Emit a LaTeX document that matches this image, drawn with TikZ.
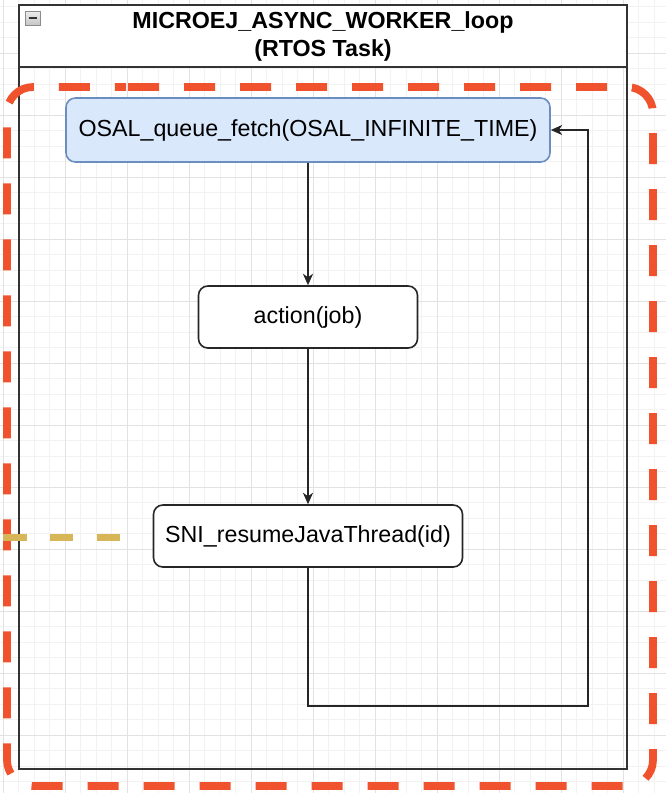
\documentclass[tikz,border=0pt]{standalone}
\usepackage{fontspec}
\setmainfont{Liberation Sans}
\usetikzlibrary{arrows.meta}
\definecolor{gridminor}{HTML}{F2F2F2}
\definecolor{gridmajor}{HTML}{E2E2E2}
\definecolor{redline}{HTML}{F0522E}
\definecolor{yelline}{HTML}{D6B656}
\definecolor{bluefill}{HTML}{DAE8FC}
\definecolor{bluestroke}{HTML}{6C8EBF}
\definecolor{poolline}{HTML}{333333}
\tikzset{
  minorgrid/.style={draw=gridminor, line width=0.75pt},
  majorgrid/.style={draw=gridmajor, line width=0.75pt},
  stepbox/.style={draw=black!85, line width=1.2pt, rounded corners=7pt, fill=white,
    font=\fontsize{17.44}{21}\selectfont, inner sep=0pt, align=center},
  bluebox/.style={stepbox, draw=bluestroke, fill=bluefill},
  poolbox/.style={draw=poolline, line width=1.4pt, inner sep=0pt},
  flow/.style={draw=black!85, line width=1.2pt, -{Stealth[length=8.5pt,width=7.5pt,inset=2.5pt]}},
  reddash/.style={draw=redline, line width=5.8pt, dash pattern=on 23.25pt off 18.75pt, dash phase=40.5pt},
  yeldash/.style={draw=yelline, line width=5.25pt, dash pattern=on 17.5pt off 17.5pt}
}
\begin{document}
\begin{tikzpicture}[x=0.75pt, y=-0.75pt]
\useasboundingbox (0,0) rectangle (666,793);
\fill[white] (0,0) rectangle (666,793);
% grid
\foreach \i in {0,...,43} {
  \draw[minorgrid] ({3+15.5*\i},0) -- ({3+15.5*\i},793);
}
\foreach \j in {0,...,51} {
  \draw[minorgrid] (0,{6.5+15.5*\j}) -- (666,{6.5+15.5*\j});
}
\foreach \i in {0,...,10} {
  \draw[majorgrid] ({3+62*\i},0) -- ({3+62*\i},793);
}
\foreach \j in {0,...,12} {
  \draw[majorgrid] (0,{-9+62*\j}) -- (666,{-9+62*\j});
}
% container
\node[poolbox, minimum width=456pt, minimum height=573pt] (pool) at (323,387) {};
\node[poolbox, fill=white, minimum width=456pt, minimum height=46.5pt,
  font=\fontsize{17.44}{21}\selectfont\bfseries, align=center] (hdr) at (323,36)
  {MICROEJ\_ASYNC\_WORKER\_loop\\(RTOS Task)};
% collapse icon
\node[draw=gray!90, line width=0.6pt, top color=gray!15, bottom color=gray!45,
  minimum width=10.7pt, minimum height=10pt, inner sep=0pt] (icon) at (32.9,18.4) {};
\draw[line width=1.4pt, black!80] ([xshift=-3.2pt]icon.center) -- ([xshift=3.2pt]icon.center);
% steps
\node[bluebox, minimum width=363pt, minimum height=48pt] (osal) at (308,130)
  {OSAL\_queue\_fetch(OSAL\_INFINITE\_TIME)};
\node[stepbox, minimum width=164.25pt, minimum height=46.5pt] (action) at (308,317)
  {action(job)};
\node[stepbox, minimum width=231.75pt, minimum height=46.5pt] (sni) at (308,536)
  {SNI\_resumeJavaThread(id)};
\coordinate (loopc) at (588,706);
\draw[flow] (osal.south) -- (action.north);
\draw[flow] (action.south) -- (sni.north);
\draw[flow] (sni.south) |- (loopc) |- (osal.east);
% red dashed frame
\draw[reddash, rounded corners=19.5pt] (100,87) -- (653,87) -- (653,786) -- (7,786) -- (7,87) -- cycle;
% yellow dashed link
\coordinate (yl) at (3.3,537.5);
\coordinate (yr) at (120,537.5);
\draw[yeldash] (yl) -- (yr);
\end{tikzpicture}
\end{document}
